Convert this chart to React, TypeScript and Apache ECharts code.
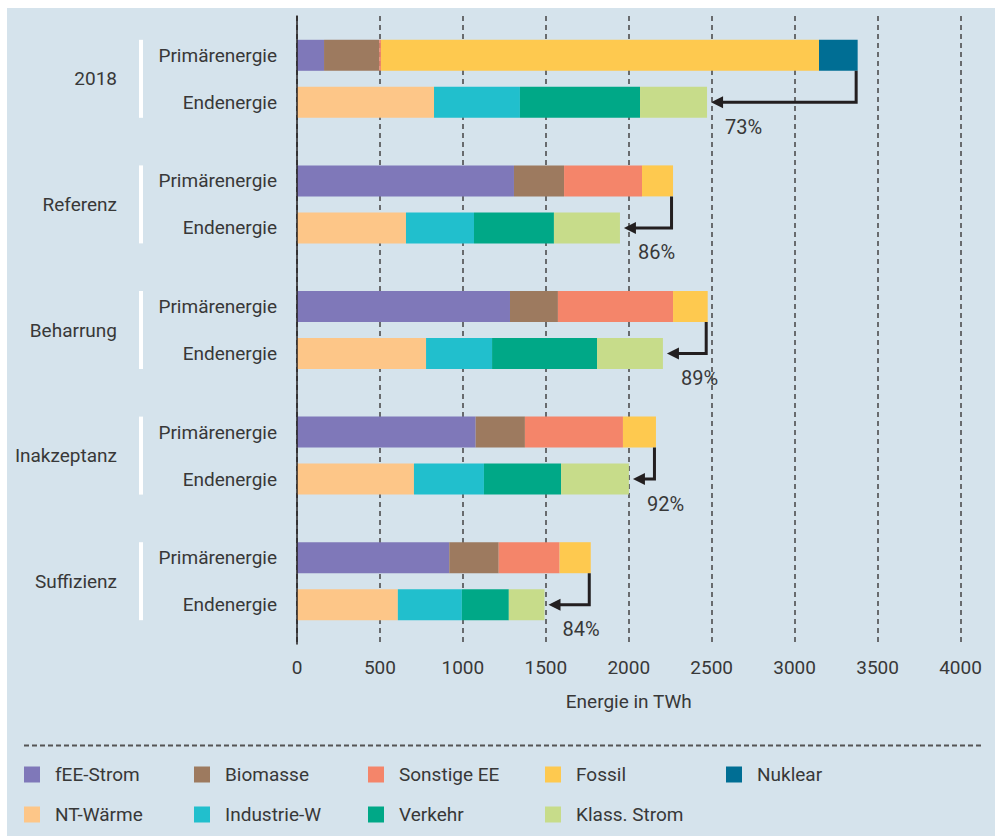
import React, { useEffect, useRef } from "react";
import * as echarts from "echarts";

// ---- data (TWh) ----
const scenarios = ["2018", "Referenz", "Beharrung", "Inakzeptanz", "Suffizienz"];
const feeStrom = [163, 1308, 1284, 1077, 918];
const biomasse = [333, 302, 289, 297, 298];
const sonstigeEE = [10, 470, 694, 591, 367];
const fossil = [2641, 187, 209, 199, 188];
const nuklear = [233, 0, 0, 0, 0];
const ntWaerme = [826, 657, 778, 705, 608];
const industrieW = [518, 410, 398, 422, 386];
const verkehr = [724, 482, 633, 465, 283];
const klassStrom = [404, 398, 397, 409, 215];
const ratioLabels = ["73%", "86%", "89%", "92%", "84%"];
const xTicks = { min: 0, max: 4000, interval: 500 };

const FONT = "Roboto";
const TEXT = "#383838";
const BAR_W = 31;
const BAR_GAP = 16;

const primSeries = [
  { name: "fEE-Strom", data: feeStrom, color: "#7f78b9" },
  { name: "Biomasse", data: biomasse, color: "#9d7a5f" },
  { name: "Sonstige EE", data: sonstigeEE, color: "#f4856a" },
  { name: "Fossil", data: fossil, color: "#fec94f" },
  { name: "Nuklear", data: nuklear, color: "#006e94" },
];
const endSeries = [
  { name: "NT-Wärme", data: ntWaerme, color: "#fdc688" },
  { name: "Industrie-W", data: industrieW, color: "#21bfcd" },
  { name: "Verkehr", data: verkehr, color: "#00a887" },
  { name: "Klass. Strom", data: klassStrom, color: "#c7dc8a" },
];

const legendRows = [
  ["fEE-Strom", "Biomasse", "Sonstige EE", "Fossil", "Nuklear"],
  ["NT-Wärme", "Industrie-W", "Verkehr", "Klass. Strom"],
];
const legendCols = [24, 194, 368, 545, 726];
const legendTops = [765, 805];

export default function App() {
  const ref = useRef<HTMLDivElement>(null);
  useEffect(() => {
    if (!ref.current) return;
    const chart = echarts.init(ref.current, undefined, { renderer: "svg" });

    const primTotal = scenarios.map((_, i) => primSeries.reduce((s, p) => s + p.data[i], 0));
    const endTotal = scenarios.map((_, i) => endSeries.reduce((s, p) => s + p.data[i], 0));

    const mkBar = (s: any, stack: string, label?: string) => ({
      type: "bar",
      name: s.name,
      stack,
      data: s.data,
      barWidth: BAR_W,
      barGap: (BAR_GAP / BAR_W) * 100 + "%",
      itemStyle: { color: s.color },
      emphasis: { disabled: true },
      label: label
        ? {
            show: true,
            position: "left",
            distance: 20,
            formatter: label,
            fontSize: 19,
            fontFamily: FONT,
            color: TEXT,
          }
        : { show: false },
    });

    const legends: any[] = [];
    legendRows.forEach((row, r) =>
      row.forEach((name, c) =>
        legends.push({
          data: [name],
          left: legendCols[c],
          top: legendTops[r],
          padding: 0,
          itemWidth: 16,
          itemHeight: 16,
          icon: "rect",
          selectedMode: false,
          textStyle: { fontSize: 19, fontFamily: FONT, color: TEXT, padding: [0, 0, 0, 10] },
        })
      )
    );

    chart.setOption({
      animation: false,
      backgroundColor: "transparent",
      textStyle: { fontFamily: FONT },
      grid: { left: 297, top: 16, width: 663.5, height: 628 },
      legend: legends,
      xAxis: {
        type: "value",
        min: xTicks.min,
        max: xTicks.max,
        interval: xTicks.interval,
        axisLine: { show: false },
        axisTick: { show: false },
        axisLabel: {
          fontSize: 19,
          fontFamily: FONT,
          color: TEXT,
          margin: 14,
          formatter: (v: number) => String(v),
        },
        splitLine: { show: true, lineStyle: { color: "#444", width: 1.5, type: [5, 4] } },
        name: "Energie in TWh",
        nameLocation: "middle",
        nameGap: 48,
        nameTextStyle: { fontSize: 19, fontFamily: FONT, color: TEXT },
      },
      yAxis: {
        type: "category",
        data: scenarios,
        inverse: true,
        z: 5,
        axisLine: { show: true, lineStyle: { color: "#231f20", width: 1.5 } },
        axisTick: { show: false },
        axisLabel: { margin: 180, fontSize: 19, fontFamily: FONT, color: TEXT },
      },
      graphic: [
        {
          type: "line",
          shape: { x1: 24, y1: 745.5, x2: 981, y2: 745.5 },
          style: { stroke: "#555", lineWidth: 2, lineDash: [5, 3] },
        },
      ],
      series: [
        ...primSeries.map((s, i) => mkBar(s, "prim", i === 0 ? "Primärenergie" : undefined)),
        ...endSeries.map((s, i) => mkBar(s, "end", i === 0 ? "Endenergie" : undefined)),
        {
          type: "custom",
          name: "arrows",
          silent: true,
          z: 10,
          data: scenarios.map((_, i) => [primTotal[i], endTotal[i], i]),
          encode: { x: [0, 1], y: 2 },
          renderItem: (params: any, api: any) => {
            const idx = api.value(2);
            const c0 = api.coord([0, idx]);
            const yc = c0[1];
            const pEnd = api.coord([api.value(0), idx])[0];
            const eEnd = api.coord([api.value(1), idx])[0];
            const yPb = yc - BAR_GAP / 2;
            const yE = yc + BAR_GAP / 2 + BAR_W / 2;
            const groupTop = yc - BAR_GAP / 2 - BAR_W;
            const groupH = 2 * BAR_W + BAR_GAP;
            const lx = pEnd - 1.5;
            return {
              type: "group",
              children: [
                {
                  type: "rect",
                  shape: { x: c0[0] - 158, y: groupTop, width: 4, height: groupH },
                  style: { fill: "#ffffff" },
                },
                {
                  type: "polyline",
                  shape: { points: [[lx, yPb], [lx, yE], [eEnd + 14, yE]] },
                  style: { stroke: "#231f20", lineWidth: 3, fill: null, lineJoin: "miter" },
                },
                {
                  type: "polygon",
                  shape: { points: [[eEnd + 4, yE], [eEnd + 16, yE - 6], [eEnd + 16, yE + 6]] },
                  style: { fill: "#231f20" },
                },
                {
                  type: "text",
                  style: {
                    text: ratioLabels[idx],
                    x: eEnd + 18,
                    y: groupTop + groupH + 9,
                    fontSize: 20,
                    fontFamily: FONT,
                    fill: TEXT,
                    align: "left",
                    verticalAlign: "middle",
                  },
                },
              ],
            };
          },
        },
      ],
    });
    return () => chart.dispose();
  }, []);

  return (
    <div style={{ position: "absolute", left: 0, top: 0, width: 995, height: 836, background: "#ffffff" }}>
      <div style={{ position: "absolute", left: 7, top: 8, right: 0, bottom: 0, background: "#d5e3ec" }} />
      <div ref={ref} style={{ position: "absolute", left: 0, top: 0, width: 995, height: 836 }} />
    </div>
  );
}
